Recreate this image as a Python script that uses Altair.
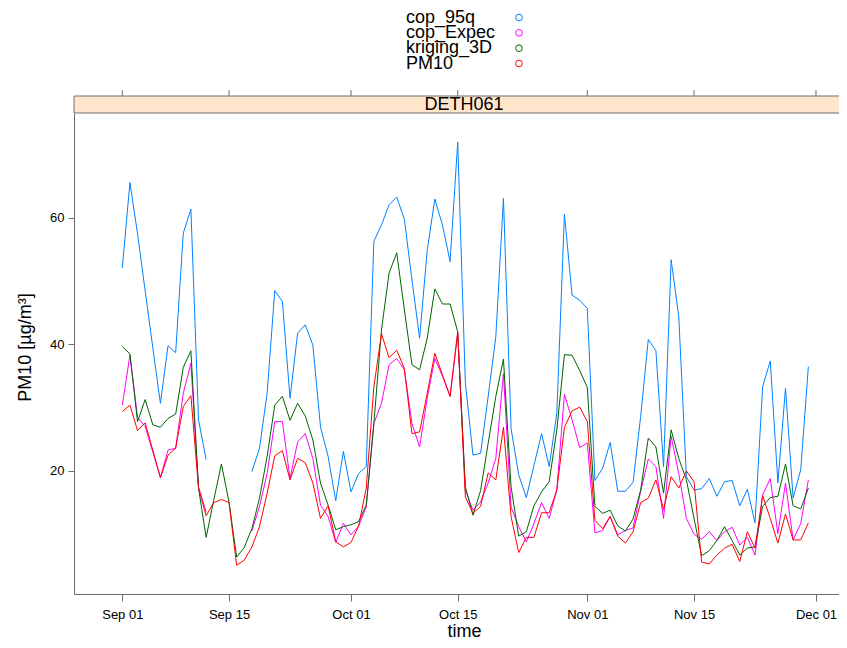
import altair as alt
import pandas as pd
import numpy as np

station = "DETH061"
series_names = ["cop_95q", "cop_Expec", "kriging_3D", "PM10"]
series_colors = ["#0080ff", "#ff00ff", "#006400", "#ff0000"]
start_date = "2019-09-01"
n_days = 91
tick_dates = ["2019-09-01", "2019-09-15", "2019-10-01", "2019-10-15",
              "2019-11-01", "2019-11-15", "2019-12-01"]
y_ticks = [20, 40, 60]
nan = float("nan")

cop_95q = [52.1, 65.6, 57.5, 48.5, 39.5, 30.7, 39.8, 38.7, 57.6, 61.4,
           28.1, 21.8, nan, nan, nan, nan, nan, 19.9, 23.6, 32.3,
           48.5, 46.8, 31.5, 41.8, 43.1, 39.9, 27.0, 22.3, 15.3, 23.1,
           16.7, 19.6, 20.7, 56.3, 58.9, 62.1, 63.3, 59.8, 50.2, 41.0,
           54.9, 63.0, 58.9, 53.1, 72.0, 34.0, 22.5, 22.8, 31.8, 41.2,
           63.1, 26.7, 19.4, 15.8, 20.9, 25.9, 20.7, 29.1, 60.6, 47.8,
           47.0, 45.7, 18.5, 20.4, 24.5, 16.8, 16.8, 18.2, 28.6, 40.8,
           39.0, 20.7, 53.4, 44.4, 19.1, 17.0, 17.2, 18.8, 16.0, 18.3,
           18.5, 14.5, 17.1, 11.8, 33.3, 37.4, 18.1, 33.1, 15.7, 20.2,
           36.5]
cop_Expec = [30.4, 38.3, 28.5, 27.0, 23.0, 19.0, 23.3, 23.6, 32.3, 37.0,
             17.5, 13.5, nan, nan, nan, nan, nan, 10.5, 14.4, 19.6,
             27.8, 27.8, 18.8, 24.6, 25.9, 22.0, 14.6, 12.8, 8.7, 11.7,
             9.9, 11.3, 14.3, 27.5, 30.7, 36.8, 37.8, 36.0, 27.5, 23.8,
             31.5, 37.8, 35.0, 31.8, 41.8, 17.0, 13.8, 15.1, 18.1, 22.0,
             35.4, 14.3, 11.2, 8.8, 11.7, 15.0, 12.5, 17.0, 32.1, 28.1,
             23.7, 24.4, 10.2, 10.6, 12.8, 9.9, 10.6, 11.0, 16.8, 21.9,
             20.7, 12.5, 25.5, 19.6, 12.5, 10.0, 9.2, 10.4, 9.0, 10.4,
             11.1, 8.3, 9.5, 6.7, 16.2, 18.8, 10.1, 18.1, 9.1, 11.7,
             18.6]
kriging_3D = [39.7, 38.5, 27.8, 31.3, 27.3, 26.9, 28.3, 29.0, 36.4, 39.0,
              17.3, 9.5, 15.4, 21.1, 15.1, 6.4, 7.9, 10.9, 15.7, 22.3,
              30.4, 31.8, 28.0, 30.7, 28.7, 24.9, 18.1, 14.6, 10.7, 11.2,
              11.5, 12.0, 14.6, 27.5, 42.3, 51.3, 54.5, 45.5, 36.8, 36.0,
              41.0, 48.8, 46.4, 46.4, 42.0, 17.5, 13.0, 16.9, 24.4, 31.8,
              37.7, 17.5, 9.7, 10.4, 14.5, 16.7, 18.3, 26.5, 38.4, 38.3,
              35.9, 33.2, 14.4, 13.3, 13.8, 11.3, 10.5, 12.4, 17.0, 25.2,
              23.8, 16.5, 26.5, 22.0, 18.6, 12.5, 6.6, 7.4, 9.0, 11.2,
              9.0, 6.7, 7.8, 8.0, 14.4, 15.8, 16.0, 21.1, 14.5, 14.0,
              17.3]
PM10 = [29.4, 30.4, 26.4, 27.6, 23.3, 18.9, 22.5, 23.6, 30.2, 31.9,
        17.3, 12.9, 15.0, 15.5, 15.0, 5.1, 5.9, 8.0, 11.2, 16.5,
        22.4, 23.2, 18.6, 22.0, 21.3, 18.1, 12.5, 14.5, 8.8, 8.0,
        8.7, 11.3, 17.3, 33.3, 41.7, 37.9, 39.1, 36.2, 25.9, 26.2,
        32.3, 38.6, 35.2, 31.8, 42.0, 15.9, 13.3, 14.4, 19.7, 18.6,
        26.9, 12.8, 7.1, 9.5, 9.5, 13.4, 13.4, 17.0, 26.9, 29.5,
        30.1, 27.8, 12.2, 10.9, 12.8, 9.7, 8.6, 10.4, 15.0, 15.7,
        18.6, 13.9, 19.1, 17.3, 20.0, 18.3, 5.6, 5.3, 6.7, 7.8,
        8.4, 5.7, 10.4, 7.8, 16.1, 12.5, 8.6, 13.2, 9.1, 9.1,
        11.8]

series_values = [cop_95q, cop_Expec, kriging_3D, PM10]
dates = pd.date_range(start_date, periods=n_days, freq="D").strftime("%Y-%m-%d").tolist()

rows = []
for name, vals in zip(series_names, series_values):
    seg = 0
    for d, v in zip(dates, vals):
        if np.isnan(v):
            seg += 1
            continue
        rows.append({"date": d, "value": v, "series": name, "segment": f"{name}_{seg}"})
df = pd.DataFrame(rows)

W, H = 765, 481
PX_PER_DAY = 7.623
LEFT_DAYS = 6.336
DAY = 86400000
base_ms = int(pd.Timestamp(start_date, tz="UTC").value // 10**6)
x_domain = [base_ms - LEFT_DAYS * DAY, base_ms + (W / PX_PER_DAY - LEFT_DAYS) * DAY]
tick_ms = [int(pd.Timestamp(t, tz="UTC").value // 10**6) for t in tick_dates]

FONT = "Liberation Sans"
AX = "#6e6e6e"
STRIP_H = 17

x_scale = alt.Scale(type="utc", domain=x_domain)
color_scale = alt.Scale(domain=series_names, range=series_colors)

lines = alt.Chart(df).mark_line(strokeWidth=1).encode(
    x=alt.X("date:T", scale=x_scale,
            axis=alt.Axis(values=tick_ms, labelExpr="utcFormat(datum.value, '%b %d')",
                          title="time", tickSize=7, labelPadding=7,
                          titleX=390, titleY=37, titleBaseline="middle",
                          titleAlign="center")),
    y=alt.Y("value:Q", scale=alt.Scale(domain=[0.55, 76.6], nice=False, zero=False),
            axis=alt.Axis(values=y_ticks, title="PM10 [µg/m³]", tickSize=6,
                          labelPadding=4, titleX=-49, titleY=234, titleAngle=270,
                          titleBaseline="middle", titleAlign="center")),
    color=alt.Color("series:N", scale=color_scale, legend=None),
    detail="segment:N",
)

tick_df = pd.DataFrame({"tick": tick_dates})
top_ticks = alt.Chart(tick_df).mark_rule(color=AX, strokeWidth=1).encode(
    x=alt.X("tick:T", scale=x_scale),
    y=alt.value(-STRIP_H - 6), y2=alt.value(-STRIP_H),
)

one = pd.DataFrame({"station": [station]})
strip = alt.Chart(one).mark_rect(fill="#ffe5cc", stroke=AX, strokeWidth=1).encode(
    x=alt.value(0), x2=alt.value(W + 10), y=alt.value(-STRIP_H), y2=alt.value(0)
)
strip_text = alt.Chart(one).mark_text(fontSize=18, font=FONT, color="#000",
                                      baseline="middle", align="center").encode(
    x=alt.value(390), y=alt.value(-8), text="station:N"
)

leg_df = pd.DataFrame({"series": series_names})
leg_y = alt.Y("series:N", scale=alt.Scale(type="point", domain=series_names,
                                          range=[-95.5, -49.5], padding=0), axis=None)
legend_text = alt.Chart(leg_df).mark_text(fontSize=18, font=FONT, color="#000",
                                          align="left", baseline="middle").encode(
    x=alt.value(332), y=leg_y, text="series:N"
)
legend_pts = alt.Chart(leg_df).mark_point(shape="circle", filled=False, size=45,
                                          strokeWidth=1, opacity=1).encode(
    x=alt.value(445), y=leg_y,
    color=alt.Color("series:N", scale=color_scale, legend=None)
)

chart = alt.layer(lines, top_ticks, strip, strip_text, legend_text, legend_pts).resolve_scale(
    y="independent"
).properties(
    width=W, height=H,
    padding={"left": 66, "top": 105, "right": 0, "bottom": 46},
    autosize=alt.AutoSizeParams(type="none"),
).configure(font=FONT).configure_view(strokeWidth=0).configure_axis(
    grid=False, domainColor=AX, tickColor=AX, domainWidth=1, tickWidth=1,
    labelColor="#000", titleColor="#000", labelFont=FONT, titleFont=FONT,
    labelFontSize=13, titleFontSize=18, titleFontWeight="normal",
)

chart.save("out.html", embed_options={"renderer": "svg", "actions": False})
